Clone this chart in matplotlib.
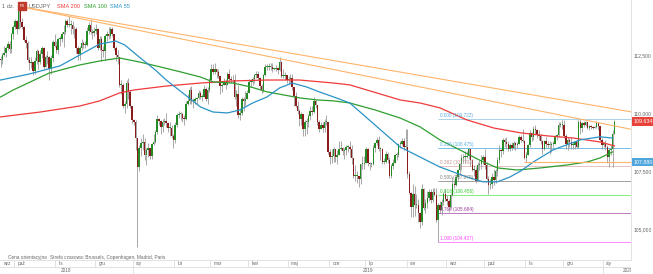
import numpy as np
import pandas as pd
import matplotlib
matplotlib.use("Agg")
import matplotlib.pyplot as plt
from matplotlib.patches import Rectangle

plt.rcParams['font.family'] = ['Liberation Sans', 'DejaVu Sans']

W, H = 653, 274

# daily USDJPY candles, weekdays from 2018-09-19 (open = previous close)
first_open = 112.30
closes = [
    112.28, 112.50, 112.58, 112.80, 112.96, 112.75, 113.42, 113.70,  # 2018-09
    113.95, 113.60, 114.45, 113.90, 113.70, 113.15, 113.00, 112.30, 112.15, 112.20,
    111.80, 112.25, 112.65, 112.20, 112.55, 112.80, 112.00, 112.40, 112.40, 111.90,
    112.35, 113.05, 112.90,  # 2018-10
    112.70, 113.20, 113.20, 113.40, 113.50, 113.95, 113.80, 113.80, 113.80, 113.60, 113.60,
    112.80, 112.55, 112.80, 113.00, 112.95, 112.95, 113.55, 113.80, 113.50, 113.45, 113.55,  # 2018-11
    113.60, 112.80, 113.20, 112.70, 112.65, 113.30, 113.40, 113.30, 113.60, 113.40,
    112.80, 112.50, 112.40, 111.20, 111.20, 110.30, 110.40, 111.30, 110.90, 110.30, 109.70,  # 2018-12
    109.60, 108.90, 107.65, 108.50, 108.70, 108.75, 108.20, 108.40, 108.50, 108.15, 108.65,
    108.75, 109.20, 109.75, 109.65, 109.40, 109.60, 109.65, 109.55, 109.35, 109.35, 109.00, 108.85,  # 2019-01
    109.50, 109.90, 109.95, 109.95, 109.80, 109.75, 110.40, 110.50, 111.00, 110.50,
    110.50, 110.60, 110.65, 110.85, 110.70, 110.70, 111.05, 110.60, 111.00, 111.40,  # 2019-02
    111.90, 111.75, 111.90, 111.75, 111.60, 111.15, 111.20, 111.35, 111.20, 111.70, 111.45,
    111.40, 111.40, 110.70, 110.80, 109.90, 110.00, 110.60, 110.50, 110.60, 110.85,  # 2019-03
    111.35, 111.35, 111.45, 111.65, 111.70, 111.50, 111.15, 111.00, 111.65, 112.00, 112.00,
    112.00, 112.00, 111.90, 111.90, 111.95, 111.85, 112.20, 111.60, 111.60, 111.65, 111.40,  # 2019-04
    111.45, 111.50, 111.10, 110.75, 110.30, 110.10, 109.75, 109.95, 109.30, 109.60, 109.60,
    109.85, 110.10, 110.05, 110.50, 110.35, 109.60, 109.30, 109.50, 109.35, 109.60, 109.60, 108.30,  # 2019-05
    108.10, 108.15, 108.45, 108.10, 108.20, 108.45, 108.50, 108.35, 108.40, 108.55,
    108.55, 108.45, 108.05, 107.30, 107.30, 107.30, 107.15, 107.80, 107.80, 107.85,  # 2019-06
    108.45, 107.85, 107.80, 107.80, 108.50, 108.70, 108.85, 108.45, 108.45, 107.90, 107.90,
    108.25, 107.95, 107.30, 107.70, 107.85, 108.20, 108.20, 108.65, 108.65, 108.80, 108.55, 108.55,  # 2019-07
    107.35, 106.55, 105.95, 106.50, 106.05, 106.05, 105.70, 105.30, 106.70, 105.90, 106.10,
    106.35, 106.60, 106.25, 106.60, 106.45, 105.40, 106.05, 105.80, 106.15, 106.50, 106.30,  # 2019-08
    106.20, 105.95, 106.45, 106.95, 106.90, 107.25, 107.55, 107.80, 108.05, 108.10, 108.10,
    108.15, 108.45, 107.95, 107.55, 107.55, 107.05, 107.75, 107.80, 107.95, 108.10,  # 2019-09
    107.75, 107.15, 106.90, 106.95, 107.25, 107.10, 107.50, 107.95, 108.40, 108.35, 108.85,
    108.75, 108.65, 108.45, 108.60, 108.50, 108.70, 108.60, 108.65, 108.95, 108.85, 108.80, 108.05,  # 2019-10
    108.20, 108.60, 109.15, 108.95, 109.30, 109.25, 109.05, 109.00, 108.80, 108.45, 108.80,
    108.65, 108.60, 108.60, 108.65, 108.65, 108.95, 109.05, 109.50, 109.50, 109.50,  # 2019-11
    109.00, 108.65, 108.85, 108.75, 108.60, 108.60, 108.75, 108.55, 109.60, 109.35, 109.55,
    109.50, 109.60, 109.35, 109.45, 109.40, 109.35, 109.40, 109.55, 109.45, 108.85, 108.60,  # 2019-12
    108.70, 108.55, 108.10, 108.40, 108.45, 109.10, 109.63,  # 2020-01
]
highs = [
    112.44, 112.60, 112.87, 112.90, 113.10, 113.10, 113.45, 113.80,
    114.05, 114.00, 114.55, 114.50, 114.10, 113.75, 113.30, 113.10, 112.40, 112.40,
    112.15, 112.40, 112.75, 112.70, 112.70, 112.90, 112.85, 112.50, 112.65, 112.45,
    112.50, 113.15, 113.40,
    113.10, 113.25, 113.30, 113.50, 113.80, 114.05, 114.05, 114.20, 114.00, 113.95, 113.75,
    113.70, 112.90, 112.90, 113.20, 113.10, 113.10, 113.70, 113.90, 114.05, 113.60, 113.70,
    113.85, 113.65, 113.30, 113.30, 112.90, 113.40, 113.55, 113.70, 113.70, 113.70,
    113.40, 112.90, 112.70, 112.30, 111.40, 111.30, 110.50, 111.40, 111.50, 111.00, 110.30,
    109.75, 109.70, 108.90, 108.60, 108.90, 109.10, 108.90, 108.50, 108.70, 108.50, 108.70,
    109.10, 109.25, 109.90, 109.80, 109.70, 109.75, 109.80, 110.00, 109.60, 109.60, 109.50, 109.10,
    109.60, 110.00, 110.10, 110.05, 110.00, 109.90, 110.50, 110.80, 111.10, 111.15,
    110.65, 110.70, 110.70, 111.00, 110.95, 110.80, 111.20, 111.10, 111.10, 111.50,
    112.10, 112.10, 112.15, 111.90, 111.90, 111.60, 111.30, 111.50, 111.45, 111.75, 111.90,
    111.60, 111.65, 111.70, 111.00, 111.20, 110.20, 110.70, 110.70, 110.95, 111.00,
    111.45, 111.45, 111.55, 111.70, 111.80, 111.80, 111.55, 111.25, 111.70, 112.10, 112.10,
    112.15, 112.15, 112.15, 111.95, 112.05, 112.00, 112.40, 112.25, 111.90, 111.75, 111.65,
    111.60, 111.70, 111.70, 111.10, 110.90, 110.50, 110.15, 110.05, 109.90, 109.70, 109.80,
    109.95, 110.30, 110.30, 110.70, 110.55, 110.35, 109.70, 109.60, 109.60, 109.75, 109.90, 109.60,
    108.45, 108.45, 108.55, 108.45, 108.40, 108.80, 108.80, 108.55, 108.50, 108.60,
    108.60, 108.80, 108.60, 107.90, 107.75, 107.50, 107.30, 107.80, 108.15, 108.15,
    108.55, 108.50, 107.90, 107.85, 108.60, 108.75, 108.95, 109.00, 108.55, 108.50, 108.05,
    108.35, 108.30, 108.10, 107.80, 108.00, 108.25, 108.30, 108.70, 108.80, 108.90, 108.90, 109.30,
    109.30, 107.50, 106.60, 106.95, 106.85, 106.50, 106.30, 105.75, 106.95, 106.75, 106.30,
    106.65, 106.70, 106.70, 106.75, 106.75, 106.75, 106.10, 106.20, 106.30, 106.60, 106.70,
    106.45, 106.30, 106.55, 107.25, 107.10, 107.35, 107.60, 107.85, 108.25, 108.25, 108.35,
    108.35, 108.47, 108.40, 108.00, 107.75, 107.65, 107.90, 107.95, 108.20, 108.20,
    108.45, 107.90, 107.30, 107.15, 107.40, 107.60, 107.60, 108.10, 108.60, 108.45, 108.90,
    108.90, 108.95, 108.80, 108.70, 108.75, 108.80, 108.75, 108.75, 109.05, 109.05, 109.30, 108.85,
    108.30, 108.65, 109.25, 109.20, 109.45, 109.50, 109.30, 109.25, 109.10, 108.85, 108.85,
    108.95, 108.80, 108.80, 108.75, 108.80, 109.05, 109.10, 109.60, 109.60, 109.70,
    109.70, 109.10, 108.95, 108.90, 108.95, 108.75, 108.80, 108.85, 109.70, 109.72, 109.60,
    109.65, 109.65, 109.60, 109.50, 109.50, 109.45, 109.45, 109.65, 109.55, 109.45, 108.90,
    108.75, 108.85, 108.60, 108.50, 108.60, 109.25, 109.70,
]
lows = [
    112.00, 112.10, 112.45, 112.40, 112.70, 112.60, 112.60, 113.20,
    113.60, 113.40, 113.60, 113.65, 113.60, 113.10, 112.80, 112.20, 111.85, 111.95,
    111.65, 111.70, 112.10, 111.90, 112.10, 112.35, 111.90, 112.00, 112.10, 111.40,
    111.70, 112.20, 112.85,
    112.60, 112.55, 112.90, 113.05, 112.85, 113.40, 113.70, 113.70, 113.40, 113.40, 113.25,
    112.60, 112.30, 112.30, 112.70, 112.80, 112.80, 112.90, 113.40, 113.40, 113.20, 113.30,
    113.40, 112.70, 112.70, 112.25, 112.40, 112.30, 113.10, 113.20, 113.25, 113.30,
    112.70, 112.25, 112.10, 111.10, 110.80, 110.20, 110.00, 110.20, 110.60, 110.20, 109.55,
    109.50, 108.40, 104.20, 107.50, 108.15, 108.40, 107.95, 107.75, 108.10, 108.00, 108.00,
    108.60, 108.70, 109.10, 109.50, 109.10, 109.20, 109.50, 109.40, 109.20, 109.00, 108.90, 108.50,
    108.70, 109.40, 109.80, 109.70, 109.60, 109.50, 109.70, 110.35, 110.40, 110.40,
    110.20, 110.40, 110.40, 110.60, 110.60, 110.50, 110.70, 110.50, 110.40, 110.90,
    111.30, 111.70, 111.70, 111.50, 111.50, 110.80, 110.90, 111.20, 111.05, 111.20, 111.30,
    111.30, 111.30, 110.60, 110.30, 109.80, 109.70, 109.90, 110.10, 110.30, 110.60,
    110.90, 111.10, 111.20, 111.30, 111.50, 111.40, 111.05, 110.85, 110.90, 111.60, 111.85,
    111.85, 111.85, 111.75, 111.85, 111.80, 111.70, 111.80, 111.50, 111.50, 111.40, 111.30,
    111.25, 111.30, 111.00, 110.30, 110.25, 109.95, 109.45, 109.50, 109.00, 109.00, 109.10,
    109.40, 109.70, 109.90, 110.00, 110.20, 109.50, 109.20, 109.30, 109.20, 109.20, 109.50, 108.25,
    107.80, 107.85, 107.90, 107.90, 107.80, 108.20, 108.40, 108.20, 108.00, 108.20,
    108.30, 108.10, 107.80, 107.20, 107.05, 107.00, 106.80, 106.95, 107.60, 107.60,
    107.85, 107.70, 107.55, 107.65, 107.75, 108.30, 108.60, 108.35, 107.95, 107.80, 107.80,
    107.85, 107.85, 107.20, 107.20, 107.60, 107.85, 107.95, 108.10, 108.50, 108.60, 108.40, 108.40,
    107.20, 106.50, 105.50, 105.50, 105.55, 105.90, 105.30, 105.05, 105.15, 105.80, 105.70,
    105.90, 106.20, 106.10, 106.15, 106.40, 105.30, 104.45, 105.70, 105.60, 106.05, 106.20,
    106.05, 105.75, 105.90, 106.40, 106.75, 106.85, 107.10, 107.35, 107.55, 107.85, 107.85,
    108.05, 108.00, 107.70, 107.50, 107.30, 107.00, 107.05, 107.55, 107.60, 107.80,
    107.60, 107.10, 106.50, 106.70, 106.75, 106.90, 107.00, 107.30, 107.85, 108.10, 108.25,
    108.55, 108.45, 108.35, 108.35, 108.40, 108.45, 108.40, 108.50, 108.65, 108.75, 108.75, 108.00,
    107.90, 108.20, 108.55, 108.80, 108.85, 109.05, 108.90, 108.85, 108.65, 108.25, 108.40,
    108.55, 108.50, 108.25, 108.30, 108.55, 108.65, 108.85, 108.95, 109.40, 109.30,
    108.90, 108.45, 108.40, 108.55, 108.45, 108.45, 108.45, 108.50, 108.50, 109.10, 109.20,
    109.40, 109.45, 109.30, 109.25, 109.30, 109.30, 109.35, 109.35, 109.25, 108.80, 108.45,
    108.55, 108.40, 107.85, 107.65, 108.20, 107.65, 109.10,
]

# moving averages (candle index, price)
sma200_pos = [0, 22, 44, 55, 66, 74, 92, 111, 129, 148, 166, 185, 194, 222, 233, 244,
              259, 274, 289, 304, 318, 333, 341]
sma200_val = [109.83, 110.04, 110.30, 110.52, 110.86, 110.99, 111.16, 111.29, 111.38, 111.42,
              111.42, 111.29, 111.21, 110.56, 110.43, 110.22, 109.70, 109.35, 109.14, 109.01,
              108.92, 108.75, 108.58]
sma100_pos = [0, 7, 27, 44, 55, 66, 77, 89, 100, 111, 118, 129, 139, 148, 157, 166, 176, 185,
              194, 208, 222, 233, 244, 255, 266, 276, 287, 300, 315, 326, 333, 340]
sma100_val = [110.69, 110.99, 111.72, 112.07, 112.24, 112.37, 112.20, 111.98, 111.77, 111.55,
              111.34, 111.29, 111.12, 110.91, 110.78, 110.65, 110.56, 110.52, 110.43, 110.13,
              109.78, 109.40, 108.84, 108.41, 107.97, 107.63, 107.54, 107.63, 107.76, 107.89,
              108.06, 108.32]
sma55_pos = [0, 16, 33, 44, 55, 64, 69, 77, 86, 92, 104, 111, 118, 126, 133, 140, 148, 155,
             162, 170, 177, 185, 194, 208, 222, 233, 244, 259, 268, 276, 283, 289, 296, 307,
             322, 333, 340]
sma55_val = [111.42, 111.68, 112.03, 112.50, 112.97, 113.10, 112.93, 112.41, 111.85, 111.42,
             110.69, 110.26, 110.04, 110.00, 110.13, 110.43, 110.69, 111.08, 111.29, 111.12,
             110.91, 110.69, 110.43, 109.48, 108.53, 108.10, 107.67, 107.24, 107.03, 107.03,
             107.24, 107.50, 107.89, 108.41, 108.84, 108.97, 108.92]

fib_high = 109.722
fib_low = 104.437
fib_ratios = [0.0, 0.236, 0.382, 0.5, 0.618, 0.764, 1.0]
fib_line_colors = ['#a9d2ea', '#74bde6', '#e6c2c2', '#a0a0a0', '#7cef7c', '#bd7abd', '#ff88ff']
fib_text_colors = ['#5aaee0', '#5aaee0', '#c49292', '#808080', '#33cc33', '#9a3a9a', '#ff44ff']

trend_pos = [10, 350]
trend_upper = [114.6, 110.05]
trend_lower = [114.6, 109.3]
support_level = 107.88
support_from = 291
last_price = 109.634

month_names = ['sty', 'lut', 'mar', 'kwi', 'maj', 'cze', 'lip', 'sie', 'wrz', 'paź', 'lis', 'gru']
dates = pd.bdate_range('2018-09-19', periods=len(closes))

fig = plt.figure(figsize=(W / 100, H / 100), dpi=100)
ax = fig.add_axes([0, 14 / H, 631 / W, 260 / H])
ax.set_xlim(-0.33, 350.2)
ax.set_ylim(103.66, 114.87)

c = np.array(closes)
o = np.array([first_open] + closes[:-1])
hi = np.maximum(np.array(highs), np.maximum(o, c))
lo = np.minimum(np.array(lows), np.minimum(o, c))
x = np.arange(len(c))
up = c >= o

# fibonacci retracement from the August 2019 low
start = 200 + int(np.argmin(lows[200:]))
for r, lc, tc in zip(fib_ratios, fib_line_colors, fib_text_colors):
    lvl = fib_high - r * (fib_high - fib_low)
    ax.hlines(lvl, start, 350.2, color=lc, lw=0.7, zorder=1)
    ax.annotate(f'{r:.3f} ({lvl:.3f})', (start, lvl), xytext=(1.2, 0.8),
                textcoords='offset points', fontsize=3.4, color=tc, va='bottom', zorder=5)

ax.vlines(x, lo, hi, color='#9a9a9a', lw=0.6, zorder=2)
body = np.where(np.abs(c - o) < 0.04, 0.04, np.abs(c - o))
ax.bar(x[up], body[up], bottom=o[up], width=0.8, color='#248a24', lw=0, zorder=3)
ax.bar(x[~up], body[~up], bottom=c[~up], width=0.8, color='#8a1c1c', lw=0, zorder=3)

ax.plot(sma200_pos, sma200_val, color='#f03a3a', lw=0.9, zorder=4)
ax.plot(sma100_pos, sma100_val, color='#2f9e2f', lw=0.9, zorder=4)
ax.plot(sma55_pos, sma55_val, color='#2b93c6', lw=0.9, zorder=4)

ax.plot(trend_pos, trend_upper, color='#ffb46a', lw=0.8, zorder=4)
ax.plot(trend_pos, trend_lower, color='#ffb46a', lw=0.8, zorder=4)
ax.hlines(support_level, support_from, 350.2, color='#ffb46a', lw=0.8, zorder=4)

# right price axis
ax.yaxis.tick_right()
ax.set_yticks([105, 107.5, 110, 112.5])
ax.set_yticklabels(['105,000', '107,500', '110,000', '112,500'])
ax.tick_params(axis='y', length=0, pad=2, labelsize=3.6, labelcolor='#666666')
ax.set_xticks([])
for s in ['top', 'left', 'bottom']:
    ax.spines[s].set_visible(False)
ax.spines['right'].set_color('#dddddd')
ax.spines['right'].set_linewidth(0.6)

for val, fc, txt in [(last_price, '#e8423a', f'{last_price:.3f}'),
                     (support_level, '#4ea6dd', f'{support_level:.3f}')]:
    ax.text(1.004, val, txt, transform=ax.get_yaxis_transform(), fontsize=3.8, color='white',
            va='center', ha='left', clip_on=False,
            bbox=dict(boxstyle='square,pad=0.35', fc=fc, ec='none'))

# header
def fx(px):
    return px / W

def fy(py):
    return 1 - py / H

hdr = 4.1
fig.text(fx(2), fy(6), '1 dz.', fontsize=hdr, color='#666666', va='center')
fig.add_artist(Rectangle((fx(18), fy(9.5)), 8 / W, 7 / H, transform=fig.transFigure,
                         color='#c0392b'))
fig.text(fx(22), fy(6), 'FX', fontsize=3.0, color='white', va='center', ha='center')
fig.text(fx(28.5), fy(6), 'USDJPY', fontsize=hdr, color='#666666', va='center')
fig.text(fx(57), fy(6), 'SMA 200', fontsize=hdr, color='#f03a3a', va='center')
fig.text(fx(83.5), fy(6), 'SMA 100', fontsize=hdr, color='#2f9e2f', va='center')
fig.text(fx(110), fy(6), 'SMA 55', fontsize=hdr, color='#2b93c6', va='center')

fig.text(fx(8), fy(257), 'Cena orientacyjna', fontsize=3.4, color='#666666', va='center')
fig.text(fx(50), fy(257), 'Strefa czasowa: Brussels, Copenhagen, Madrid, Paris',
         fontsize=3.4, color='#666666', va='center')

# time axis rows
axt = fig.add_axes([0, 0, 631 / W, 14 / H])
axt.set_xlim(ax.get_xlim())
axt.set_ylim(0, 2)
axt.axis('off')
axt.axhline(2, color='#dddddd', lw=0.6, clip_on=False)
axt.axhline(1, color='#dddddd', lw=0.6)
months = dates.to_period('M')
for per in months.unique():
    i = int(np.flatnonzero(months == per)[0])
    if i > 0:
        axt.vlines(i - 0.5, 1, 2, color='#dddddd', lw=0.6)
    axt.text(i + 1.3, 1.5, month_names[per.month - 1], fontsize=3.4, color='#666666',
             va='center')
years = dates.year
bounds = [ax.get_xlim()[0]]
for yr in sorted(set(years))[1:]:
    i = int(np.flatnonzero(years == yr)[0])
    axt.vlines(i - 0.5, 0, 1, color='#dddddd', lw=0.6)
    bounds.append(i - 0.5)
bounds.append(362)
for k, yr in enumerate(sorted(set(years))):
    axt.text((bounds[k] + bounds[k + 1]) / 2, 0.5, str(yr), fontsize=3.4, color='#666666',
             va='center', ha='center', clip_on=True)

fig.savefig('out.png', dpi=100)
